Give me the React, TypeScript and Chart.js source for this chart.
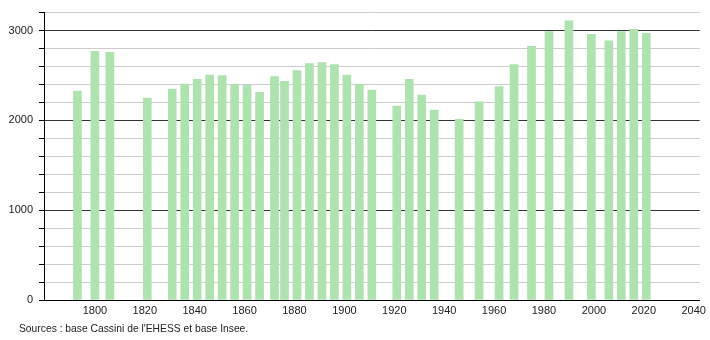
import React, { useEffect, useRef } from "react";
import { Chart, registerables } from "chart.js";

Chart.register(...registerables);

const years = [1793, 1800, 1806, 1821, 1831, 1836, 1841, 1846, 1851, 1856, 1861, 1866, 1872, 1876, 1881, 1886, 1891, 1896, 1901, 1906, 1911, 1921, 1926, 1931, 1936, 1946, 1954, 1962, 1968, 1975, 1982, 1990, 1999, 2006, 2011, 2016, 2021];
const population = [2325, 2768, 2757, 2248, 2348, 2403, 2458, 2503, 2500, 2400, 2392, 2311, 2488, 2436, 2555, 2632, 2643, 2620, 2503, 2400, 2337, 2159, 2458, 2281, 2115, 2012, 2207, 2377, 2620, 2824, 2990, 3108, 2957, 2886, 2990, 3015, 2968];
const xTickYears = [1800, 1820, 1840, 1860, 1880, 1900, 1920, 1940, 1960, 1980, 2000, 2020, 2040];
const yLabelValues = [0, 1000, 2000, 3000];
const sourceText = "Sources : base Cassini de l'EHESS et base Insee.";

const FONT = "'Liberation Sans', Arial, sans-serif";

export default function App() {
  const ref = useRef<HTMLCanvasElement | null>(null);

  useEffect(() => {
    document.body.style.margin = "0";
    const canvas = ref.current;
    if (!canvas) return;
    const chart = new Chart(canvas, {
      type: "bar",
      data: {
        datasets: [
          {
            data: years.map((y, i) => ({ x: y, y: population[i] })),
            backgroundColor: "rgb(174, 226, 174)",
            borderWidth: 0,
            barThickness: 8,
          },
        ],
      },
      options: {
        animation: false,
        responsive: false,
        maintainAspectRatio: false,
        layout: { padding: { left: 0, top: 10, right: 9, bottom: 0 } },
        plugins: { legend: { display: false }, tooltip: { enabled: false } },
        scales: {
          x: {
            type: "linear",
            min: 1779.6,
            max: 2042.4,
            offset: false,
            afterBuildTicks: (scale: any) => {
              scale.ticks = xTickYears.map((v) => ({ value: v }));
            },
            afterFit: (scale: any) => {
              scale.height = 40;
            },
            grid: { display: false, drawTicks: false },
            border: { display: true, color: "#000", width: 1 },
            ticks: {
              padding: 4,
              maxRotation: 0,
              autoSkip: false,
              color: "#222",
              font: { family: FONT, size: 11 },
              callback: (v: any) => String(v),
            },
          },
          y: {
            min: 0,
            max: 3200,
            afterBuildTicks: (scale: any) => {
              const t: any[] = [];
              for (let v = 0; v <= 3200; v += 200) t.push({ value: v });
              scale.ticks = t;
            },
            afterFit: (scale: any) => {
              scale.width = 44;
            },
            grid: {
              color: (ctx: any) => (ctx.tick && ctx.tick.value % 1000 === 0 ? "#333" : "#cccccc"),
              tickColor: "#000",
              tickLength: 5,
              lineWidth: 1,
            },
            border: { display: true, color: "#000", width: 1 },
            ticks: {
              padding: 6,
              autoSkip: false,
              color: "#222",
              font: { family: FONT, size: 11 },
              callback: (v: any) => (yLabelValues.includes(Number(v)) ? String(v) : ""),
            },
          },
        },
      },
    });
    return () => chart.destroy();
  }, []);

  return (
    <div style={{ position: "relative", width: 710, height: 340 }}>
      <canvas ref={ref} width={710} height={340} style={{ display: "block" }} />
      <div
        style={{
          position: "absolute",
          left: 19,
          top: 323,
          fontFamily: FONT,
          fontSize: 10.3,
          color: "#222",
          whiteSpace: "nowrap",
        }}
      >
        {sourceText}
      </div>
    </div>
  );
}
